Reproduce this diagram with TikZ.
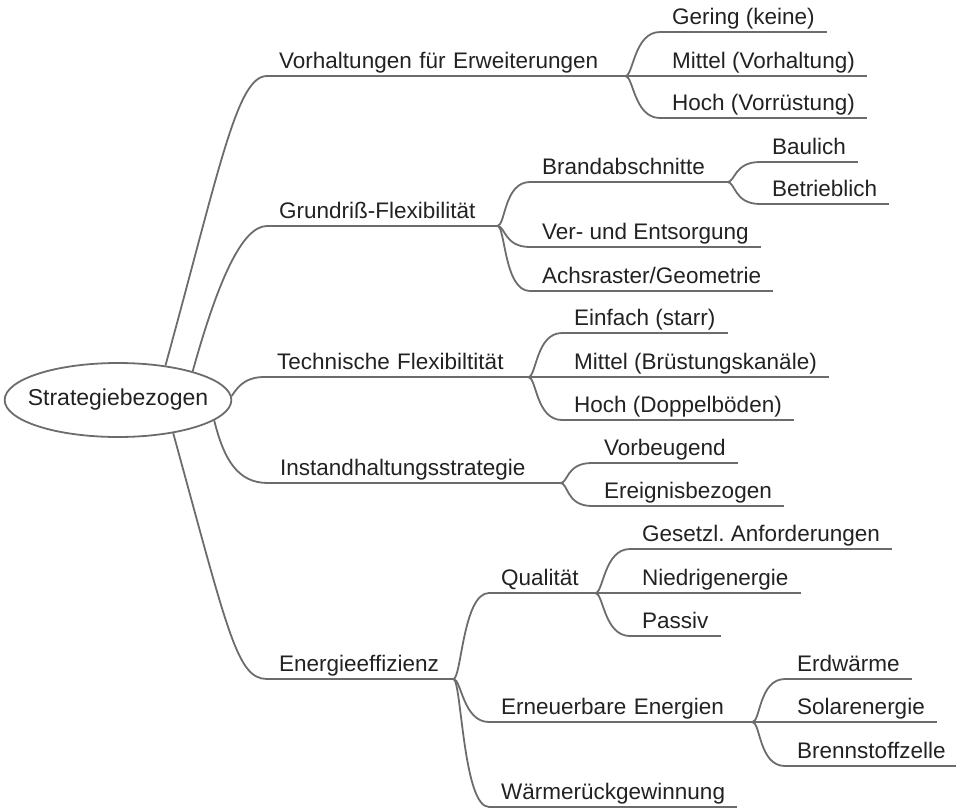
\documentclass[tikz,border=0pt]{standalone}
\usepackage{fontspec}
\setmainfont{Liberation Sans}
\usetikzlibrary{calc}
\usetikzlibrary{shapes.geometric}
\definecolor{branchgray}{HTML}{6C6C6C}
\definecolor{labelgray}{HTML}{222222}

\begin{document}
\begin{tikzpicture}[x=1pt,y=-1pt,
  branch/.style={draw=branchgray,line width=1.8pt},
  item/.style={anchor=south west,align=left,inner xsep=12pt,inner ysep=2pt,text depth=5pt,text=labelgray,font=\fontsize{22.5}{27}\selectfont},
  rootbox/.style={ellipse,draw=branchgray,line width=1.8pt,minimum width=223pt,minimum height=74pt,inner xsep=-10pt,text=labelgray,font=\fontsize{23}{27}\selectfont}]
\useasboundingbox (0,0) rectangle (956,809);
\node[rootbox] (root) at (118,400) {Strategiebezogen};

\node[item,text width=334pt] (vorh) at (267,76) {Vorhaltungen für Erweiterungen};
\node[item,text width=206pt] (grund) at (267,226) {Grundriß-Flexibilität};
\node[item,text width=239pt] (tech) at (265,377) {Technische Flexibiltität};
\node[item,text width=268pt] (inst) at (268,483) {Instandhaltungsstrategie};
\node[item,text width=162pt] (ener) at (267,679) {Energieeffizienz};

\node[item] (ger) at (660,32) {Gering (keine)};
\node[item] (mitv) at (660,76) {Mittel (Vorhaltung)};
\node[item] (hochv) at (660,118) {Hoch (Vorrüstung)};

\node[item,text width=173pt] (brand) at (530,182) {Brandabschnitte};
\node[item] (verent) at (530,247) {Ver- und Entsorgung};
\node[item] (achs) at (530,291) {Achsraster/Geometrie};
\node[item] (baul) at (760,162) {Baulich};
\node[item] (betr) at (760,204) {Betrieblich};

\node[item] (einf) at (562,333) {Einfach (starr)};
\node[item] (mitt) at (562,377) {Mittel (Brüstungskanäle)};
\node[item] (hocht) at (562,420) {Hoch (Doppelböden)};

\node[item] (vorb) at (592,463) {Vorbeugend};
\node[item] (ereig) at (592,506) {Ereignisbezogen};

\node[item,text width=82pt] (qual) at (489,593) {Qualität};
\node[item,text width=239pt] (erneu) at (489,722) {Erneuerbare Energien};
\node[item] (waerme) at (489,807) {Wärmerückgewinnung};
\node[item] (gesetz) at (630,549) {Gesetzl.\ Anforderungen};
\node[item] (niedrig) at (630,593) {Niedrigenergie};
\node[item] (passiv) at (630,636) {Passiv};
\node[item] (erd) at (785,679) {Erdwärme};
\node[item] (solar) at (785,722) {Solarenergie};
\node[item] (brenn) at (785,766) {Brennstoffzelle};

\foreach \n in {vorh,grund,tech,inst,ener,ger,mitv,hochv,brand,verent,achs,baul,betr,
  einf,mitt,hocht,vorb,ereig,qual,erneu,waerme,gesetz,niedrig,passiv,erd,solar,brenn}
  \draw[branch] (\n.south west) -- (\n.south east);

\draw[branch] (root.36) .. controls +(55,-200) and +(-30,0) .. (vorh.south west);
\draw[branch] (root.21) .. controls +(25,-90) and +(-25,0) .. (grund.south west);
\draw[branch] (root.2) .. controls +(8,-12) and +(-18,0) .. (tech.south west);
\draw[branch] (root.-12) .. controls +(10,40) and +(-30,0) .. (inst.south west);
\draw[branch] (root.-31) .. controls +(55,200) and +(-30,0) .. (ener.south west);

\foreach \p/\c in {vorh/ger,vorh/mitv,vorh/hochv,grund/brand,grund/verent,grund/achs,
  brand/baul,brand/betr,tech/einf,tech/mitt,tech/hocht,inst/vorb,inst/ereig,
  ener/qual,ener/erneu,ener/waerme,qual/gesetz,qual/niedrig,qual/passiv,
  erneu/erd,erneu/solar,erneu/brenn}
  \draw[branch] (\p.south east) .. controls +(8,0) and +(-26,0) .. (\c.south west);
\end{tikzpicture}
\end{document}
